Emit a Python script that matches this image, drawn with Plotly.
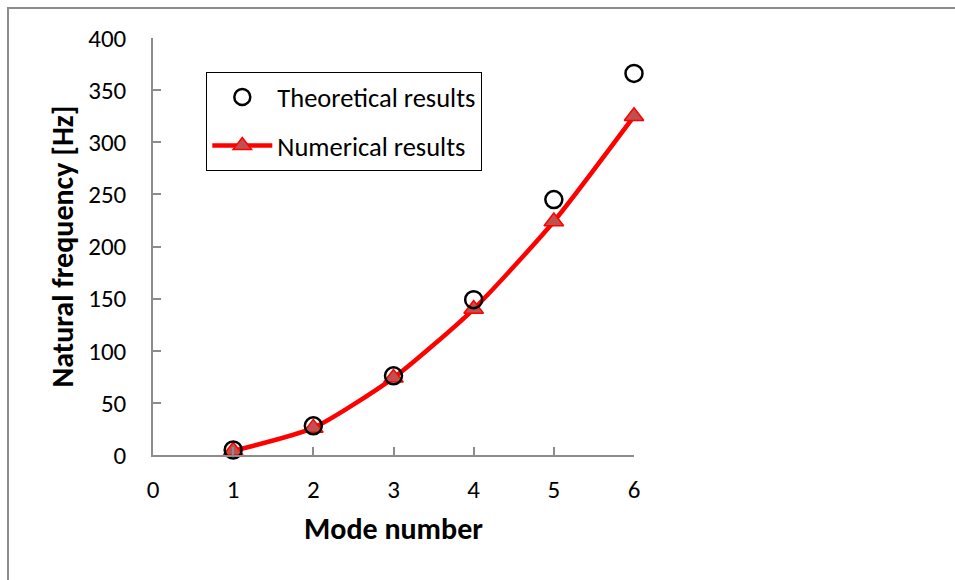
import plotly.graph_objects as go

mode = [1, 2, 3, 4, 5, 6]
theoretical = [4.8, 28, 76, 149, 245, 366]
numerical = [4, 26, 74, 140, 224, 325]

W, H = 955, 580
L, R, T, B = 153, 321, 38, 125
pw, ph = W - L - R, H - T - B

FONT = "Carlito, Calibri, Lato, sans-serif"
AX = "#8c8c8c"

fig = go.Figure()
fig.add_trace(go.Scatter(
    x=mode, y=numerical, name="Numerical results", mode="lines+markers",
    line=dict(color="#ff0000", width=4.5, shape="spline", smoothing=0.6),
    marker=dict(symbol="triangle-up", size=17, color="#c0504d",
                line=dict(color="#ff0000", width=1.5)),
    legendgroup="b", legendrank=2, cliponaxis=False,
))
fig.add_trace(go.Scatter(
    x=mode, y=theoretical, name="Theoretical results", mode="markers",
    marker=dict(symbol="circle-open", size=17, color="#000000",
                line=dict(color="#000000", width=2.5)),
    legendgroup="a", legendrank=1, cliponaxis=False,
))

fig.update_layout(
    width=W, height=H,
    margin=dict(l=L, r=R, t=T, b=B),
    paper_bgcolor="white", plot_bgcolor="white",
    font=dict(family=FONT, size=25, color="#000000"),
    showlegend=True,
    legend=dict(
        x=(206 - L) / pw, y=(H - B - 72) / ph, xanchor="left", yanchor="top",
        bgcolor="white", bordercolor="#000000", borderwidth=1.3,
        font=dict(family=FONT, size=26.5),
        traceorder="grouped", tracegroupgap=11, itemwidth=60,
    ),
    xaxis=dict(
        range=[0, 6], dtick=1, tick0=0, showgrid=False, zeroline=False,
        showline=True, linecolor=AX, linewidth=1.5,
        ticks="inside", ticklen=8, tickcolor=AX, tickwidth=1.5,
        ticklabelstandoff=11,
        title=dict(text="<b>Mode number</b>", font=dict(family=FONT, size=30), standoff=14),
    ),
    yaxis=dict(
        range=[0, 400], dtick=50, tick0=0, showgrid=False, zeroline=False,
        showline=True, linecolor=AX, linewidth=1.5,
        ticks="inside", ticklen=8, tickcolor=AX, tickwidth=1.5,
        ticklabelstandoff=20,
        title=dict(text="<b>Natural frequency [Hz]</b>", font=dict(family=FONT, size=30), standoff=6),
    ),
    shapes=[dict(
        type="rect", xref="paper", yref="paper",
        x0=(8 - L) / pw, x1=(W + 20 - L) / pw,
        y0=(H - B - (H + 20)) / ph, y1=(H - B - 8) / ph,
        line=dict(color=AX, width=2), fillcolor="rgba(0,0,0,0)", layer="below",
    )],
)

fig.write_html("out.html")
